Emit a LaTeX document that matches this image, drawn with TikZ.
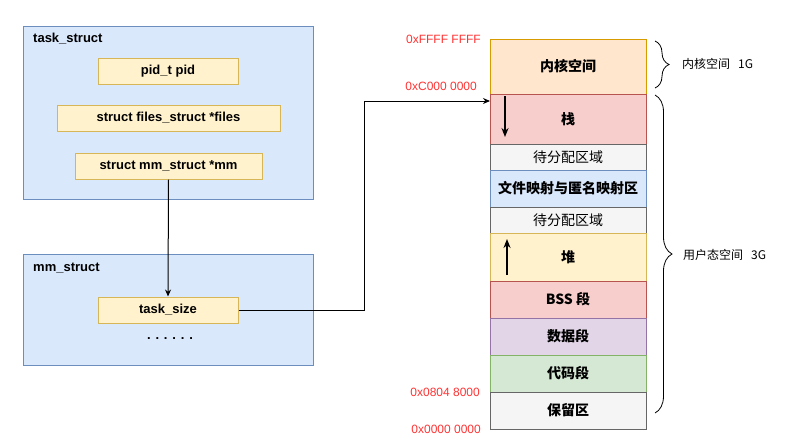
\documentclass[tikz,border=0pt]{standalone}
\usepackage{fontspec}
\setmainfont{Liberation Sans}
\newfontfamily\cjk{Noto Sans CJK SC}
\usetikzlibrary{positioning}
\usetikzlibrary{arrows.meta}
\usetikzlibrary{decorations.pathreplacing}
\tikzset{>={Stealth[length=7pt,width=6pt]}}

\definecolor{blueFill}{HTML}{DAE8FC}
\definecolor{blueLine}{HTML}{6C8EBF}
\definecolor{yellowFill}{HTML}{FFF2CC}
\definecolor{yellowLine}{HTML}{D6B656}
\definecolor{orangeFill}{HTML}{FFE6CC}
\definecolor{orangeLine}{HTML}{D79B00}
\definecolor{redFill}{HTML}{F8CECC}
\definecolor{redLine}{HTML}{B85450}
\definecolor{grayFill}{HTML}{F5F5F5}
\definecolor{grayLine}{HTML}{666666}
\definecolor{purpleFill}{HTML}{E1D5E7}
\definecolor{purpleLine}{HTML}{9673A6}
\definecolor{greenFill}{HTML}{D5E8D4}
\definecolor{greenLine}{HTML}{82B366}
\definecolor{addrRed}{HTML}{FF3333}

\newcommand{\codefont}{\fontsize{13}{15}\selectfont\bfseries}
\newcommand{\segfont}{\cjk\fontsize{14}{16}\selectfont}

\tikzset{
  frame/.style={draw=blueLine, fill=blueFill, line width=1pt, anchor=north west, minimum width=290pt},
  field/.style={draw=yellowLine, fill=yellowFill, line width=1pt, minimum height=26pt, inner sep=0pt, font=\codefont},
  title/.style={anchor=west, inner sep=0pt, font=\codefont},
  seg/.style={line width=1pt, minimum width=156pt, inner sep=0pt, outer sep=0pt, font=\segfont\bfseries},
  freeseg/.style={seg, draw=grayLine, fill=grayFill, minimum height=26pt, font=\segfont},
  addr/.style={text=addrRed, inner sep=0pt, font=\fontsize{12}{14}\selectfont},
  side/.style={anchor=west, inner sep=0pt, font=\cjk\fontsize{12}{14}\selectfont},
  brace/.style={decorate, decoration={brace, amplitude=#1}, line width=0.8pt},
  growarrow/.style={->, line width=1.5pt, >={Stealth[length=9pt,width=7pt]}}
}

\begin{document}
\begin{tikzpicture}[x=1pt, y=-1pt, node distance=0pt]
  \useasboundingbox[fill=white] (0,0) rectangle (792,447);

  \node[frame, minimum height=173pt] (task) at (23,26) {};
  \node[title] (tasklbl) at (33,39) {task\_struct};
  \node[field, minimum width=140pt] (pid) at (168,71) {pid\_t pid};
  \node[field, minimum width=223pt] (files) at (168.5,118) {struct files\_struct *files};
  \node[field, minimum width=187pt] (mm) at (168.5,166) {struct mm\_struct *mm};

  \node[frame, minimum height=111pt] (mms) at (23,254) {};
  \node[title] (mmlbl) at (33,268) {mm\_struct};
  \node[field, minimum width=140pt] (tsize) at (168,310) {task\_size};
  \node[font=\codefont] (dots) at (170,339) {. . . . . .};

  \node[seg, draw=orangeLine, fill=orangeFill, minimum height=55pt, anchor=north west] (kernel) at (490,39) {内核空间};
  \node[seg, draw=redLine, fill=redFill, minimum height=50pt, below=of kernel] (stack) {栈};
  \node[freeseg, below=of stack] (free1) {待分配区域};
  \node[seg, draw=blueLine, fill=blueFill, minimum height=37pt, below=of free1] (mmap) {文件映射与匿名映射区};
  \node[freeseg, below=of mmap] (free2) {待分配区域};
  \node[seg, draw=yellowLine, fill=yellowFill, minimum height=48pt, below=of free2] (heap) {堆};
  \node[seg, draw=redLine, fill=redFill, minimum height=37pt, below=of heap] (bss) {BSS 段};
  \node[seg, draw=purpleLine, fill=purpleFill, minimum height=37pt, below=of bss] (data) {数据段};
  \node[seg, draw=greenLine, fill=greenFill, minimum height=37pt, below=of data] (code) {代码段};
  \node[seg, draw=grayLine, fill=grayFill, minimum height=37pt, below=of code] (reserved) {保留区};

  \node[addr, left=9pt of kernel.north west] (aTop) {0xFFFF FFFF};
  \node[addr, left=13pt of kernel.south west, yshift=8pt] (aKernel) {0xC000 0000};
  \node[addr, left=10pt of reserved.north west] (aCode) {0x0804 8000};
  \node[addr, left=9pt of reserved.south west] (aZero) {0x0000 0000};

  \draw[growarrow] ([xshift=15pt,yshift=-2pt]stack.north west) -- ([xshift=15pt,yshift=7pt]stack.south west);
  \draw[growarrow] ([xshift=17pt,yshift=6pt]heap.south west) -- ([xshift=17pt,yshift=-6pt]heap.north west);

  \draw[brace=14pt] ([xshift=9pt,yshift=-2pt]kernel.north east) -- ([xshift=9pt,yshift=6pt]kernel.south east);
  \draw[brace=17pt] ([xshift=9pt,yshift=-1pt]stack.north east) -- ([xshift=9pt,yshift=16pt]reserved.south east);
  \node[side] (klbl) at (682,64) {内核空间\hspace{8pt}1G};
  \node[side] (ulbl) at (683,255) {用户态空间\hspace{8pt}3G};

  \coordinate (bend) at (364,101);
  \draw[->, line width=1pt] (mm.south) -- (tsize.north);
  \draw[->, line width=1pt] (tsize.east) -| (bend) -- (stack.west |- bend);
\end{tikzpicture}
\end{document}
